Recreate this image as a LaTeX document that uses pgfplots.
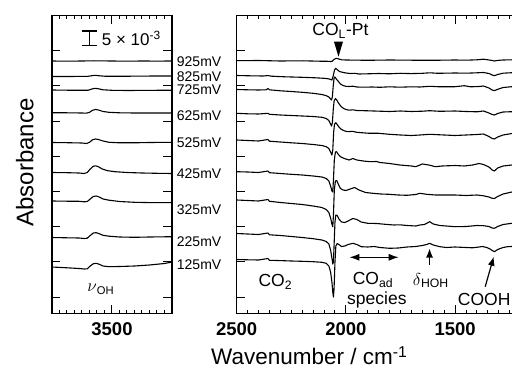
\documentclass[border=0pt]{standalone}
\usepackage{fontspec}
\setmainfont{Liberation Sans}
\usepackage{pgfplots}
\pgfplotsset{compat=1.18}
\usetikzlibrary{arrows.meta}

\pgfplotsset{
  specaxis/.style={
    scale only axis, height=298pt, y dir=reverse, ymin=15.5, ymax=313.5,
    x dir=reverse, axis line style={line width=1.2pt},
    every tick/.style={black, line width=1pt},
    major tick length=8.5pt, minor tick length=4pt,
    ytick={50.7,85.9,121.1,156.3,191.5,226.7,261.9,297.1}, yticklabels={},
    tick align=inside, xtick pos=both, ytick pos=both,
    xticklabel style={font=\fontsize{18.5}{20}\selectfont\bfseries, inner sep=0pt, anchor=north, yshift=-9pt},
    clip=false,
  },
  spec/.style={black, line width=1.1pt, mark=none, line join=round},
}
\tikzset{
  ann/.style={anchor=base west, inner sep=0pt, font=\fontsize{17.5}{19}\selectfont},
  mv/.style={anchor=base west, inner sep=0pt, font=\fontsize{14}{15}\selectfont},
}

\begin{document}
\begin{tikzpicture}[x=1pt,y=1pt]
\path[use as bounding box] (0,0) rectangle (512,369);

% ---------------- left panel ----------------
\begin{axis}[specaxis, at={(52pt,55.5pt)}, anchor=south west, width=120pt,
  xmin=3100, xmax=3900, xtick={3500}, xticklabels={3500},
  minor xtick={3100,3150,...,3900}]
% 925
\addplot[spec] coordinates {(3900,61) (3800,61.2) (3700,61) (3620,60.8) (3500,61) (3400,61.2) (3300,61) (3200,61.1) (3100,61)};
% 825
\addplot[spec] coordinates {(3900,76.5) (3800,76.5) (3700,76.4) (3660,76.3) (3630,75.6) (3610,75.3) (3590,75.7) (3550,76.2) (3450,76.3) (3300,76.1) (3200,76) (3100,76)};
% 725
\addplot[spec] coordinates {(3900,90) (3800,90.2) (3700,90.3) (3660,90.3) (3635,89) (3612,88.3) (3590,88.8) (3560,89.8) (3500,90.3) (3400,90.5) (3300,90.4) (3200,90.3) (3100,90.3)};
% 625
\addplot[spec] coordinates {(3900,112.7) (3800,112.8) (3700,113) (3670,113.2) (3650,112.3) (3630,110.3) (3610,109.5) (3590,110) (3560,111.5) (3520,112.3) (3450,112.8) (3350,113) (3250,113) (3100,113)};
% 525
\addplot[spec] coordinates {(3900,142.5) (3800,142.7) (3700,143) (3670,143.5) (3650,142.3) (3630,139.8) (3610,139) (3590,139.5) (3560,141) (3520,142.3) (3450,142.8) (3350,142.8) (3250,142.5) (3100,142.3)};
% 425
\addplot[spec] coordinates {(3900,172.5) (3800,172.7) (3720,173) (3685,173.5) (3665,172.5) (3645,169) (3625,166.3) (3610,165.8) (3590,166.8) (3565,169) (3530,170.7) (3480,171.7) (3400,172.5) (3300,173) (3200,173.3) (3100,173.5)};
% 325
\addplot[spec] coordinates {(3900,201) (3800,201.2) (3720,201.3) (3685,201.8) (3665,201.5) (3645,199) (3625,196.5) (3605,196) (3585,197) (3560,199) (3520,200.2) (3450,201.5) (3350,202.3) (3250,202.6) (3100,202.7)};
% 225
\addplot[spec] coordinates {(3900,237.5) (3800,237.8) (3720,238) (3685,238.5) (3665,238.2) (3645,235.5) (3625,233) (3605,232.7) (3585,233.7) (3560,235.3) (3520,236.2) (3450,237) (3350,237.3) (3250,237) (3100,236.7)};
% 125
\addplot[spec] coordinates {(3900,267) (3800,267.8) (3720,268.5) (3685,269) (3665,268.8) (3645,266) (3625,263.8) (3605,263.3) (3585,264.3) (3560,266) (3520,266.7) (3450,266.5) (3350,266) (3250,265) (3150,263.5) (3100,262)};

% scale bar
\draw[line width=1.1pt] (axis cs:3652,31) -- (axis cs:3652,45.7);
\draw[line width=1.1pt] ([xshift=-7.5pt]axis cs:3652,31) -- ([xshift=7.5pt]axis cs:3652,31);
\draw[line width=1.1pt] ([xshift=-7.5pt]axis cs:3652,45.7) -- ([xshift=7.5pt]axis cs:3652,45.7);
\node[anchor=base west, inner sep=0pt, font=\fontsize{17}{19}\selectfont] at (axis cs:3569,45.3) {5 × 10\textsuperscript{-3}};
\node[anchor=base west, inner sep=0pt, font=\fontsize{16}{18}\selectfont] at (axis cs:3665,291.7) {$\nu$\textsubscript{OH}};
\end{axis}

% ---------------- right panel ----------------
\begin{axis}[specaxis, at={(236.7pt,55.5pt)}, anchor=south west, width=283.9pt,
  xmin=1200, xmax=2500, xtick={2500,2000,1500}, xticklabels={2500,2000,1500},
  minor xtick={1200,1250,...,2500}]
% 925
\addplot[spec] coordinates {(2500,60.7) (2400,60.5) (2300,61) (2200,60.8) (2120,61.2) (2085,61.3) (2070,61.5) (2062,61.2) (2055,59.5) (2045,58.3) (2035,58.8) (2020,59.8) (2000,60) (1900,60.3) (1800,60) (1700,60.2) (1600,60.3) (1500,60) (1450,60.2) (1400,59.8) (1370,59.2) (1350,59.8) (1330,60.5) (1320,61) (1305,60.4) (1280,60) (1240,59.8) (1200,59.7)};
% 825
\addplot[spec] coordinates {(2500,75.5) (2440,75.8) (2380,76) (2357,75.6) (2340,76.2) (2280,76.8) (2200,77.3) (2140,77.8) (2100,78.3) (2080,78.8) (2070,79.5) (2064,80) (2058,76) (2052,70) (2047,68.3) (2040,69.5) (2030,71.5) (2015,72.3) (2000,73) (1980,73.5) (1960,73.3) (1940,74) (1900,73.8) (1850,73.5) (1800,73.8) (1750,73.3) (1700,73.6) (1650,73.3) (1616,72.8) (1580,73.3) (1500,73) (1450,73.2) (1400,72.8) (1370,72.5) (1345,73.5) (1330,75) (1320,75.7) (1305,74.5) (1280,73.2) (1240,72.7) (1200,72.5)};
% 725
\addplot[spec] coordinates {(2500,89.5) (2450,89.8) (2400,90) (2365,89.8) (2357,88.5) (2350,89.8) (2300,90.8) (2250,91.5) (2200,92.3) (2150,93.3) (2110,94.5) (2090,95.7) (2078,97) (2070,99) (2066,100) (2062,97) (2058,86) (2054,78) (2050,77) (2044,79) (2036,81) (2025,84) (2013,85.5) (2000,86.3) (1985,86.5) (1968,86.2) (1950,87) (1920,87.2) (1880,87) (1844,87.3) (1800,86.8) (1753,87.2) (1700,86.8) (1661,87) (1616,86.3) (1570,86.8) (1500,86.7) (1458,85.7) (1430,86.8) (1390,86.5) (1370,86) (1345,88) (1330,90) (1320,90.7) (1305,89.3) (1280,87.5) (1240,86.7) (1200,86.5)};
% 625
\addplot[spec] coordinates {(2500,113.3) (2450,113.8) (2400,114) (2357,113.3) (2350,114.3) (2300,115) (2250,115.5) (2200,116) (2150,116.5) (2110,117.3) (2090,118.5) (2078,120.5) (2070,124) (2066,126) (2062,123) (2058,110) (2054,101) (2048,98.5) (2042,100) (2034,103) (2022,106.5) (2010,108.5) (2000,109.5) (1985,110.2) (1968,109.8) (1950,110.5) (1900,110.8) (1844,111.2) (1800,111.5) (1750,111) (1700,111.5) (1650,111.2) (1616,110.7) (1570,111.3) (1500,111) (1450,111.5) (1400,111.8) (1370,111) (1345,113) (1330,114.5) (1320,115) (1305,113.5) (1280,112) (1240,111.7) (1200,111.5)};
% 525
\addplot[spec] coordinates {(2500,140) (2450,140.5) (2400,141) (2357,139.5) (2350,141.2) (2300,142) (2250,142.8) (2200,143.5) (2150,144.5) (2110,145.5) (2090,146.7) (2078,148.5) (2070,152) (2064,155) (2060,150) (2056,132) (2052,124) (2046,122.7) (2040,124.5) (2030,127.5) (2020,129.5) (2005,131) (1990,131.7) (1970,131.3) (1950,132.3) (1900,133.2) (1850,133.3) (1800,134.3) (1750,135) (1700,135.5) (1661,135) (1616,134.3) (1570,134.8) (1500,135.5) (1450,135) (1400,134.5) (1370,134) (1345,136.5) (1330,138.5) (1320,139) (1305,137) (1280,135) (1240,133.5) (1200,133)};
% 425
\addplot[spec] coordinates {(2500,171.7) (2450,172) (2400,172.5) (2357,171) (2350,172.7) (2300,173.5) (2250,174.3) (2200,175) (2150,176) (2110,177) (2090,178.5) (2078,181) (2070,186) (2064,191) (2060,192) (2057,180) (2053,160) (2048,152) (2043,151.7) (2036,154) (2026,156.5) (2013,158) (2000,159) (1985,160) (1968,158.5) (1950,160) (1920,161) (1890,161.7) (1860,161.5) (1844,162.5) (1800,163.5) (1753,165) (1700,166) (1680,166.7) (1650,164) (1620,165) (1590,166.7) (1560,166) (1500,165.5) (1458,166) (1420,165) (1390,163.5) (1370,164.5) (1345,167) (1330,170) (1320,171) (1305,168) (1280,166) (1240,165) (1200,164.5)};
% 325
\addplot[spec] coordinates {(2500,200) (2450,200.5) (2400,201) (2357,199.5) (2350,201.3) (2300,202.5) (2250,203.5) (2200,204.5) (2150,206) (2110,207.5) (2090,209.5) (2078,212.5) (2070,218) (2064,224) (2060,226.7) (2057,215) (2053,190) (2048,181) (2042,180.5) (2035,184) (2025,188.5) (2013,190) (2000,190.5) (1980,189) (1960,187.5) (1940,190) (1910,192.5) (1877,193.3) (1840,194) (1803,194.3) (1760,195) (1720,195.3) (1680,194.5) (1661,193.3) (1630,194.3) (1590,195) (1500,195) (1450,195.5) (1400,195) (1370,195.8) (1345,197) (1330,198.3) (1320,198.5) (1305,196.5) (1280,194) (1240,192) (1200,191)};
% 225
\addplot[spec] coordinates {(2500,233.5) (2450,234) (2400,234.5) (2357,233) (2350,234.8) (2300,235.5) (2250,236.5) (2200,237.5) (2150,238.7) (2110,240) (2090,241.5) (2078,244) (2070,250) (2064,258) (2060,264) (2057,262) (2054,245) (2050,222) (2046,215) (2040,215.5) (2032,219) (2020,222) (2005,222.5) (1990,221) (1968,218.5) (1950,219.5) (1930,222) (1900,223.3) (1860,223.5) (1820,224.3) (1780,225) (1753,224.8) (1720,225.5) (1680,226) (1661,225) (1640,224.5) (1616,221.7) (1600,224) (1570,225.5) (1540,226) (1500,226.7) (1450,226.5) (1400,225.5) (1370,225.7) (1345,226.5) (1330,228) (1320,228.3) (1305,226.5) (1280,224.5) (1240,223.3) (1200,223)};
% 125
\addplot[spec] coordinates {(2500,259.5) (2450,259.8) (2400,260) (2357,258.5) (2350,260.3) (2300,260.6) (2250,261) (2200,261.3) (2150,261.7) (2110,262.3) (2090,263.3) (2078,266) (2070,272) (2064,282) (2060,292) (2057,297) (2054,288) (2050,262) (2046,246) (2040,243.5) (2032,244.5) (2020,246.5) (2005,246) (1990,244.5) (1968,243.3) (1950,244.5) (1930,246.7) (1900,247) (1870,246.5) (1844,247.5) (1800,248.3) (1760,248) (1720,247) (1680,246.5) (1650,245.5) (1630,244.5) (1616,243.3) (1600,245) (1570,246.7) (1540,247.5) (1500,247) (1450,247.5) (1420,247.8) (1390,247) (1375,246.5) (1355,247.5) (1340,249) (1330,250.5) (1320,251.7) (1305,249.5) (1280,247.5) (1260,246.7) (1240,246.5) (1200,246)};

% annotations
\node[ann] at (axis cs:2154,36) {CO\textsubscript{L}-Pt};
\fill (axis cs:2034,56.7) -- ++(-4.5pt,15pt) -- ++(9pt,0pt) -- cycle;
\node[ann] at (axis cs:2401,286.7) {CO\textsubscript{2}};
\draw[{Latex[length=10pt,width=7pt]}-{Latex[length=10pt,width=7pt]}, line width=1.2pt] (axis cs:1984,257.3) -- (axis cs:1758,257.3);
\node[ann] at (axis cs:1969,284.5) {CO\textsubscript{ad}};
\node[ann] at (axis cs:1995,304) {species};
\node[ann] at (axis cs:1694,285) {$\delta$\textsubscript{HOH}};
\draw[-{Latex[length=9pt,width=7pt]}, line width=1.2pt] (axis cs:1617,265) -- (axis cs:1617,248.5);
\node[ann] at (axis cs:1488,305) {COOH};
\draw[-{Latex[length=9pt,width=7pt]}, line width=1.2pt] (axis cs:1362,286.7) -- (axis cs:1323,256.7);
\end{axis}

% potential labels
\node[mv] at (176.7,302.3) {925mV};
\node[mv] at (176.7,287) {825mV};
\node[mv] at (176.7,274) {725mV};
\node[mv] at (176.7,248.3) {625mV};
\node[mv] at (176.7,221.3) {525mV};
\node[mv] at (176.7,190) {425mV};
\node[mv] at (176.7,154.7) {325mV};
\node[mv] at (176.7,122.3) {225mV};
\node[mv] at (176.7,99) {125mV};

% axis titles
\node[rotate=90, anchor=base west, inner sep=0pt, font=\fontsize{24}{26}\selectfont] at (33.3,142.3) {Absorbance};
\node[anchor=base west, inner sep=0pt, font=\fontsize{22.5}{24}\selectfont] at (211,4) {Wavenumber / cm\textsuperscript{-1}};
\end{tikzpicture}
\end{document}
